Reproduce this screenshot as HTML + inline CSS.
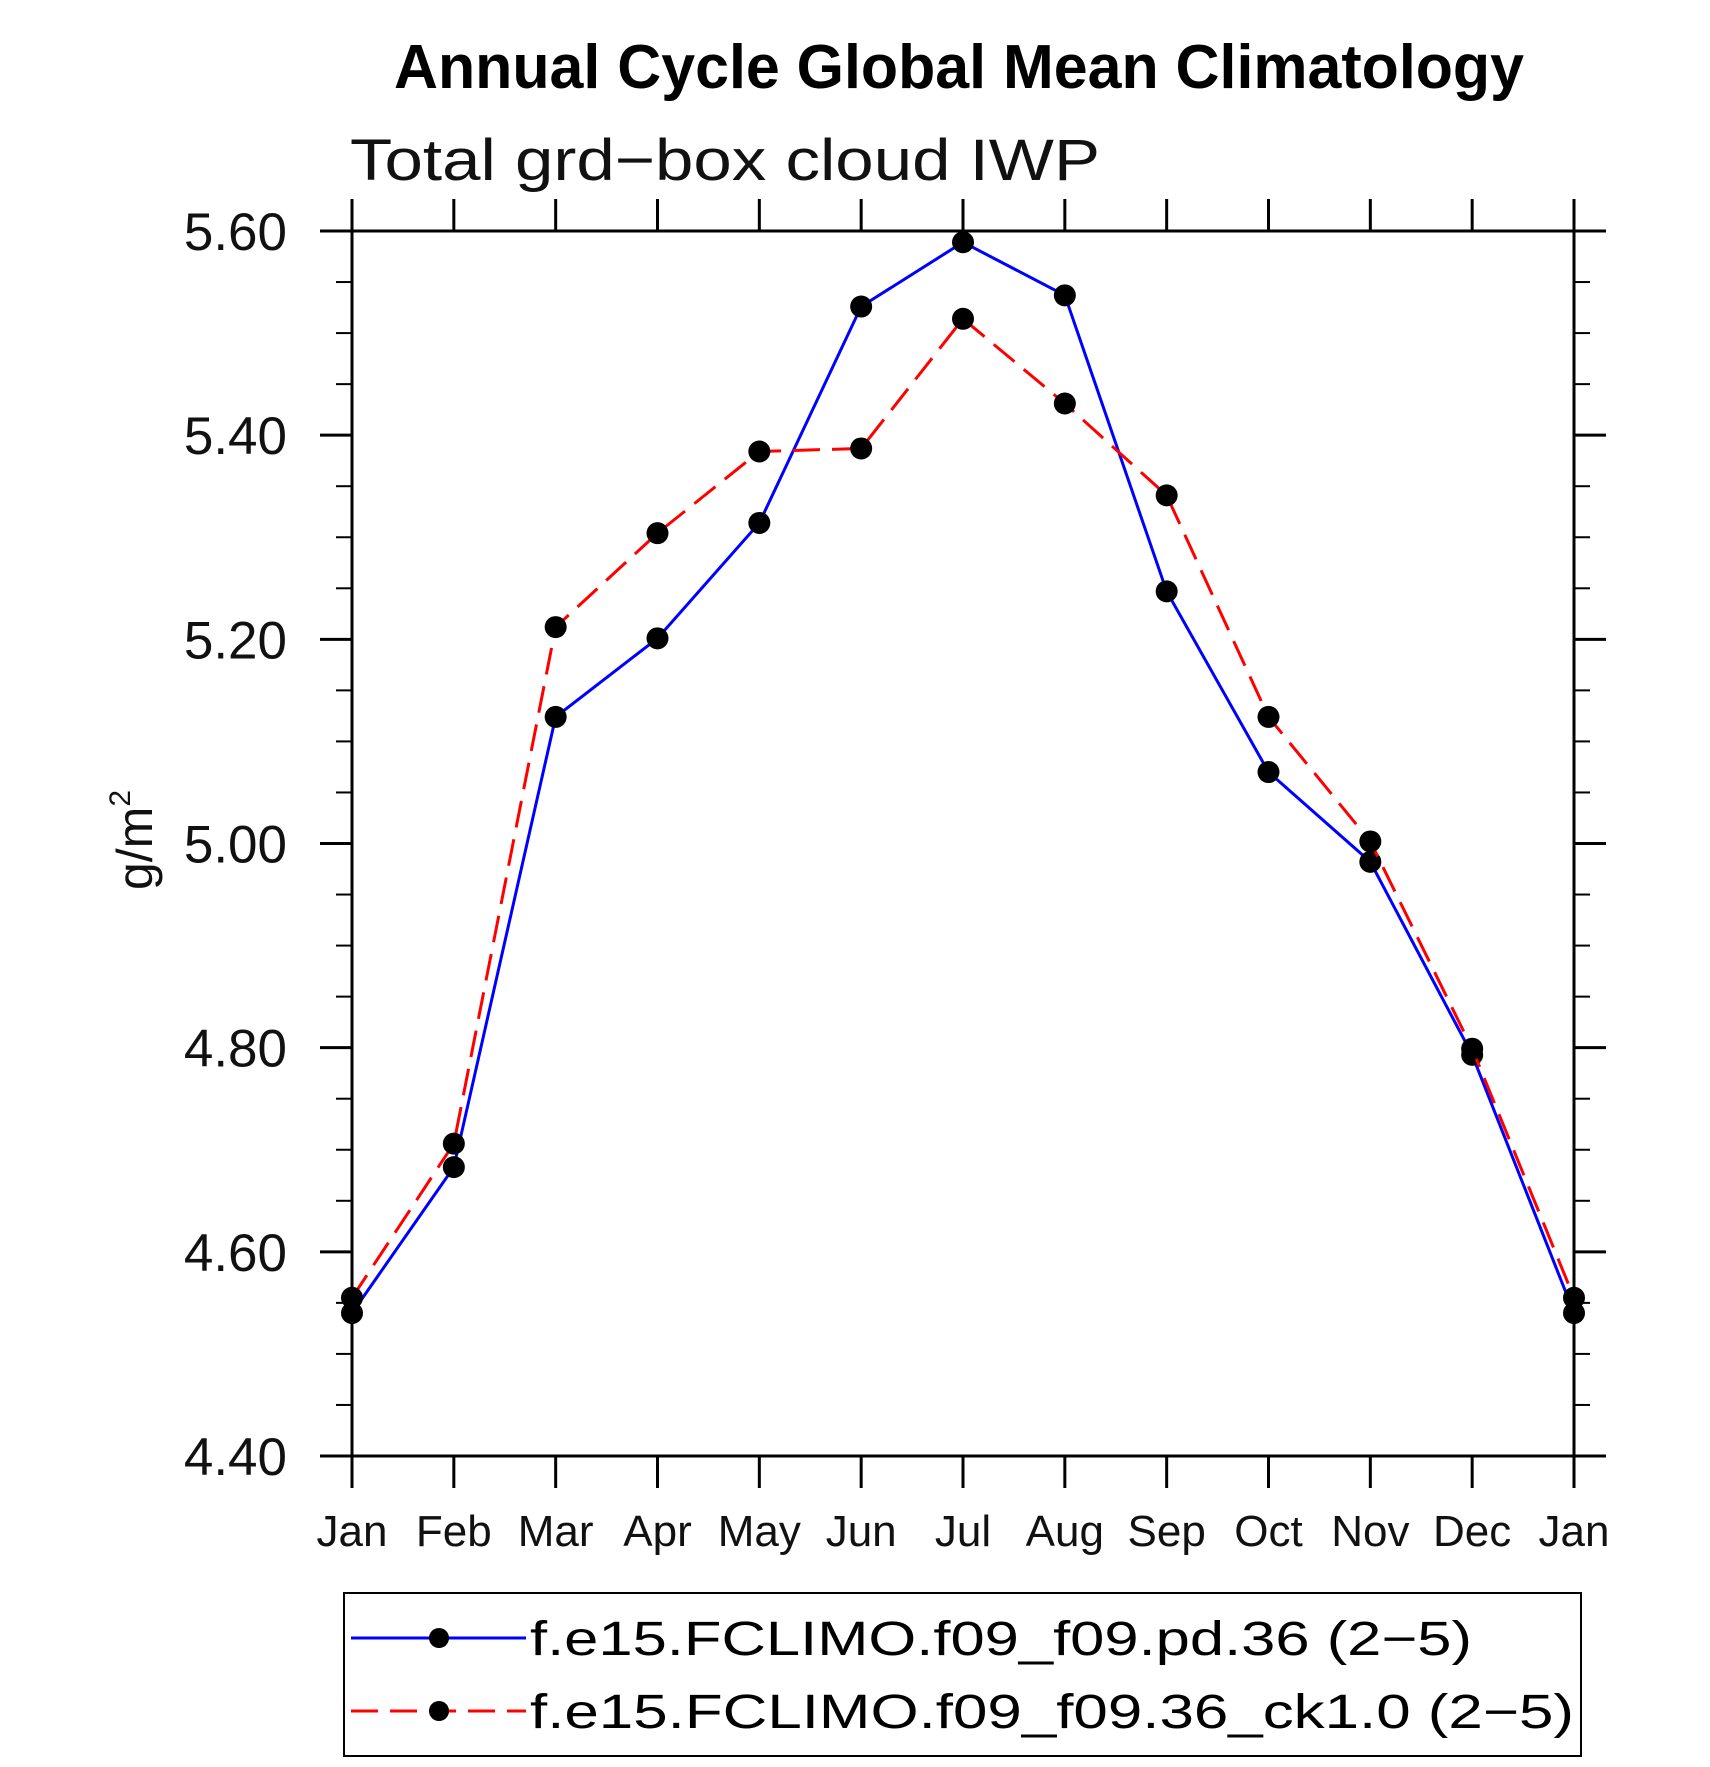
<!DOCTYPE html>
<html><head><meta charset="utf-8"><style>
html,body{margin:0;padding:0;background:#fff;}
svg text{font-family:"Liberation Sans",sans-serif;}
</style></head><body>
<svg id="chart" width="1710" height="1762" viewBox="0 0 1710 1762" xmlns="http://www.w3.org/2000/svg">
<text x="394" y="88" font-size="62" font-weight="bold" textLength="1130" lengthAdjust="spacingAndGlyphs">Annual Cycle Global Mean Climatology</text>
<text x="350" y="180" font-size="58" font-weight="300" fill="#111" textLength="750" lengthAdjust="spacingAndGlyphs">Total grd−box cloud IWP</text>
<g id="axes"></g>
<g id="series"></g>
<g id="legend">
<rect x="344" y="1593" width="1237" height="163" fill="none" stroke="#000" stroke-width="2"/>
<g>
<line x1="351" y1="1638" x2="526" y2="1638" stroke="#0000ff" stroke-width="3"/>
<circle cx="439" cy="1638" r="10"/>
<text x="530" y="1655" font-size="48" textLength="942" lengthAdjust="spacingAndGlyphs">f.e15.FCLIMO.f09_f09.pd.36 (2−5)</text>
</g>
<g>
<line x1="351" y1="1711" x2="526" y2="1711" stroke="#ff0000" stroke-width="3" stroke-dasharray="27 12"/>
<circle cx="439" cy="1711" r="10"/>
<text x="530" y="1728" font-size="48" textLength="1044" lengthAdjust="spacingAndGlyphs">f.e15.FCLIMO.f09_f09.36_ck1.0 (2−5)</text>
</g>
</g>
</svg>
<script>
const months = ["Jan","Feb","Mar","Apr","May","Jun","Jul","Aug","Sep","Oct","Nov","Dec","Jan"];
const bluePd36 = [4.540,4.683,5.124,5.201,5.314,5.526,5.589,5.537,5.247,5.070,4.982,4.793,4.540];
const redCk1 = [4.555,4.706,5.212,5.304,5.384,5.387,5.514,5.431,5.341,5.124,5.002,4.799,4.555];
const yTicks = ["4.40","4.60","4.80","5.00","5.20","5.40","5.60"];

const NS="http://www.w3.org/2000/svg";
const X0=352,X1=1574,Y0=1456,Y1=231,VMIN=4.4,VMAX=5.6;
function xs(i){return X0+(X1-X0)*i/(months.length-1);}
function ys(v){return Y0-(Y0-Y1)*(v-VMIN)/(VMAX-VMIN);}
function mk(tag,attrs,parent){const e=document.createElementNS(NS,tag);for(const k in attrs)e.setAttribute(k,attrs[k]);parent.appendChild(e);return e;}
const axes=document.getElementById('axes');
mk('rect',{x:X0,y:Y1,width:X1-X0,height:Y0-Y1,fill:'none',stroke:'#000','stroke-width':3},axes);
months.forEach((m,i)=>{
  const x=xs(i);
  mk('line',{x1:x,y1:Y0,x2:x,y2:Y0+32,stroke:'#000','stroke-width':3},axes);
  mk('line',{x1:x,y1:Y1,x2:x,y2:Y1-32,stroke:'#000','stroke-width':3},axes);
  const t=mk('text',{x:x,y:1546,'font-size':44,'text-anchor':'middle',fill:'#111'},axes);
  
  
  t.textContent=m;
});
for(let k=0;k<=24;k++){
  const v=VMIN+k*0.05,y=ys(v),major=k%4===0;
  const L=major?32:16;
  mk('line',{x1:X0-L,y1:y,x2:X0,y2:y,stroke:'#000','stroke-width':major?3:2},axes);
  mk('line',{x1:X1,y1:y,x2:X1+L,y2:y,stroke:'#000','stroke-width':major?3:2},axes);
}
yTicks.forEach(s=>{
  const t=mk('text',{x:287,y:ys(parseFloat(s))+19,'font-size':53,'text-anchor':'end',fill:'#111'},axes);
  
  
  t.textContent=s;
});
const yt=mk('text',{x:0,y:0,'font-size':50,'text-anchor':'middle',fill:'#111',transform:'translate(152,840) rotate(-90)'},axes);


yt.innerHTML='g/m<tspan font-size="30" dy="-22">2</tspan>';

const ser=document.getElementById('series');
function drawSeries(vals,color,dash,name){
  const g=mk('g',{},ser);
  
  
  const pts=vals.map((v,i)=>xs(i)+','+ys(v)).join(' ');
  const pl=mk('polyline',{points:pts,fill:'none',stroke:color,'stroke-width':3},g);
  if(dash)pl.setAttribute('stroke-dasharray',dash);
  
  
  vals.forEach((v,i)=>{
    const c=mk('circle',{cx:xs(i),cy:ys(v),r:11,fill:'#000'},g);
    
    
  });
}
drawSeries(bluePd36,'#0000ff',null,'series-pd36');
drawSeries(redCk1,'#ff0000','27 12','series-ck1');
</script>
</body></html>
